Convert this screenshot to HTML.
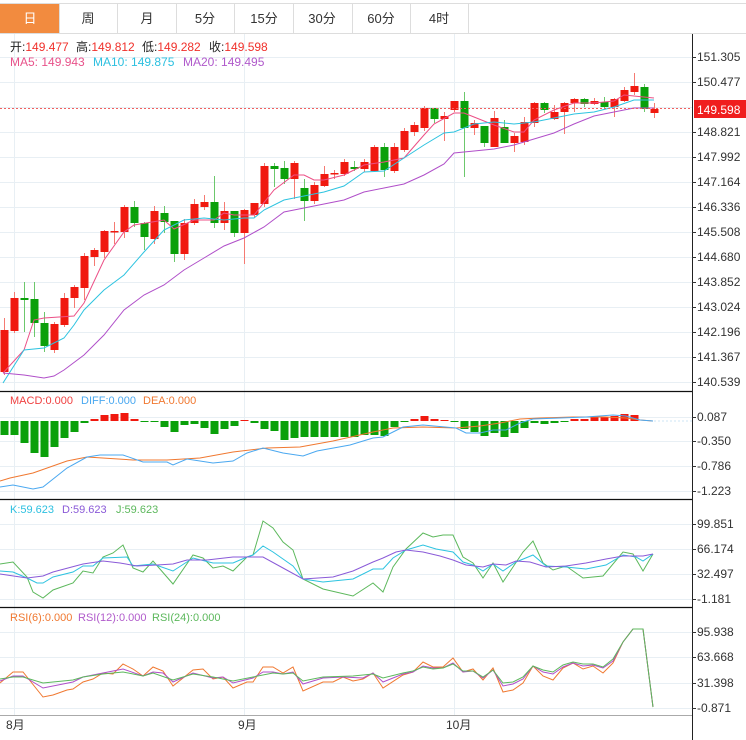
<!DOCTYPE html>
<html><head><meta charset="utf-8"><style>
body{margin:0;width:746px;height:740px;background:#fff;overflow:hidden;font-family:"Liberation Sans","Noto Sans CJK SC",sans-serif}
svg{position:absolute;left:0;top:0}
text{font-family:"Liberation Sans","Noto Sans CJK SC",sans-serif}
</style></head><body>
<svg id="s" width="746" height="740" xmlns="http://www.w3.org/2000/svg">
<line x1="0" y1="3.5" x2="746" y2="3.5" stroke="#ddd"/>
<line x1="0" y1="33.5" x2="746" y2="33.5" stroke="#ddd"/>
<rect x="0" y="4" width="59" height="29" fill="#f28b3f"/>
<g stroke="#ddd"><line x1="59.5" y1="4" x2="59.5" y2="33"/><line x1="117.5" y1="4" x2="117.5" y2="33"/><line x1="176.5" y1="4" x2="176.5" y2="33"/><line x1="234.5" y1="4" x2="234.5" y2="33"/><line x1="293.5" y1="4" x2="293.5" y2="33"/><line x1="352.5" y1="4" x2="352.5" y2="33"/><line x1="410.5" y1="4" x2="410.5" y2="33"/><line x1="468.5" y1="4" x2="468.5" y2="33"/></g>
<g font-size="13" text-anchor="middle" fill="#333"><text x="30" y="23" fill="#fff">日</text><text x="88" y="23">周</text><text x="147" y="23">月</text><text x="205" y="23">5分</text><text x="264" y="23">15分</text><text x="322" y="23">30分</text><text x="381" y="23">60分</text><text x="439" y="23">4时</text></g>
<g stroke="#e8eff4" id="grid"></g>
<g stroke="#e8eff4"><line x1="14.5" y1="34" x2="14.5" y2="715"/><line x1="244.5" y1="34" x2="244.5" y2="715"/><line x1="454.5" y1="34" x2="454.5" y2="715"/></g>
<g stroke="#111" stroke-width="1.2"><line x1="0" y1="391.5" x2="692" y2="391.5"/><line x1="0" y1="499.5" x2="692" y2="499.5"/><line x1="0" y1="607.5" x2="692" y2="607.5"/></g>
<line x1="0" y1="715.5" x2="692" y2="715.5" stroke="#aaa"/>
<line x1="692.5" y1="34" x2="692.5" y2="740" stroke="#222"/>
<g id="plot"></g>
<g font-size="12">
<text x="10" y="51" fill="#222">开:<tspan fill="#f0302a">149.477</tspan></text>
<text x="76" y="51" fill="#222">高:<tspan fill="#f0302a">149.812</tspan></text>
<text x="142" y="51" fill="#222">低:<tspan fill="#f0302a">149.282</tspan></text>
<text x="209" y="51" fill="#222">收:<tspan fill="#f0302a">149.598</tspan></text>
<text x="10" y="66" fill="#e8528a">MA5: 149.943</text><text x="93" y="66" fill="#2dc0e0">MA10: 149.875</text><text x="183" y="66" fill="#b05acb">MA20: 149.495</text>
</g>
<g font-size="11">
<text x="10" y="404" fill="#f04040">MACD:0.000</text><text x="81" y="404" fill="#4aa8f0">DIFF:0.000</text><text x="143" y="404" fill="#f07830">DEA:0.000</text>
<text x="10" y="513" fill="#2dc0e0">K:59.623</text><text x="62" y="513" fill="#8a5ad8">D:59.623</text><text x="116" y="513" fill="#5cb85c">J:59.623</text>
<text x="10" y="621" fill="#f07830">RSI(6):0.000</text><text x="78" y="621" fill="#b05acb">RSI(12):0.000</text><text x="152" y="621" fill="#5cb85c">RSI(24):0.000</text>
</g>
<g font-size="12" fill="#333" id="ax"></g>
<line x1="0" y1="108.5" x2="692" y2="108.5" stroke="#f06060" stroke-dasharray="2,2"/>
<rect x="694" y="100" width="52" height="18" fill="#f01e1e"/>
<text x="697" y="114" font-size="12" fill="#fff">149.598</text>
<g font-size="12" fill="#333"><text x="6" y="729">8月</text><text x="238" y="729">9月</text><text x="446" y="729">10月</text></g>
</svg>
<script>
var NS="http://www.w3.org/2000/svg",P=document.getElementById('plot'),G=document.getElementById('grid'),A=document.getElementById('ax');
function el(t,a,p){var e=document.createElementNS(NS,t);for(var k in a)e.setAttribute(k,a[k]);(p||P).appendChild(e);return e;}
var ticks=[[57,"151.305"],[82,"150.477"],[132,"148.821"],[157,"147.992"],[182,"147.164"],[207,"146.336"],[232,"145.508"],[257,"144.680"],[282,"143.852"],[307,"143.024"],[332,"142.196"],[357,"141.367"],[382,"140.539"],[417,"0.087"],[441,"-0.350"],[466,"-0.786"],[491,"-1.223"],[524,"99.851"],[549,"66.174"],[574,"32.497"],[599,"-1.181"],[632,"95.938"],[657,"63.668"],[683,"31.398"],[708,"-0.871"]];
ticks.forEach(function(t){el('line',{x1:0,y1:t[0]+.5,x2:692,y2:t[0]+.5},G);el('line',{x1:692,y1:t[0]+.5,x2:696,y2:t[0]+.5,stroke:'#333'},A);var x=el('text',{x:697,y:t[0]+4},A);x.textContent=t[1];});
el('line',{x1:0,y1:107.5,x2:692,y2:107.5},G);
var C=[[330,372,318,375,1],[298,331,292,333,1],[298,300,282,332,0],[299,323,282,337,0],[323,346,312,352,0],[324,350,322,353,1],[298,325,293,327,1],[287,298,285,308,1],[256,288,253,300,1],[250,257,248,266,1],[231,252,230,258,1],[231,232,222,244,1],[207,232,205,238,1],[207,223,201,227,0],[223,237,222,250,0],[211,239,206,244,1],[213,222,206,233,0],[221,254,221,262,0],[223,254,219,260,1],[204,223,199,225,1],[202,207,195,210,1],[202,223,176,228,0],[211,223,202,230,1],[211,233,211,237,0],[210,233,209,264,1],[203,215,203,217,1],[166,204,163,207,1],[166,169,163,187,0],[168,179,161,184,0],[163,179,161,199,1],[188,201,179,221,0],[185,201,182,204,1],[174,186,166,187,1],[173,174,170,179,1],[162,174,159,176,1],[167,169,161,171,0],[162,169,159,172,1],[147,171,145,172,1],[147,170,143,177,0],[147,171,143,173,1],[131,150,128,152,1],[125,132,122,136,1],[108,128,106,131,1],[108,119,108,123,0],[116,119,112,141,1],[101,110,101,112,1],[101,128,92,177,0],[123,128,120,135,1],[126,143,126,147,0],[118,147,111,147,1],[127,143,120,143,0],[136,143,133,152,1],[122,142,117,145,1],[103,123,102,127,1],[103,110,102,113,0],[112,119,105,120,1],[103,112,102,134,1],[99,103,98,112,1],[99,104,98,107,0],[101,104,98,105,1],[102,107,97,108,0],[99,107,98,117,1],[90,101,87,102,1],[86,92,73,95,1],[87,109,84,112,0],[109,113,103,118,1]];
C.forEach(function(c,i){var x=4+i*10,col=c[4]?'#f0190f':'#0aa00a',wc=c[4]?'#f57a72':'#6cc86c';
el('line',{x1:x+.5,y1:c[2],x2:x+.5,y2:c[3],stroke:wc});el('rect',{x:x-3.5,y:c[0],width:8,height:Math.max(1.5,c[1]-c[0]),fill:col});});
function pl(pts,col,w){el('polyline',{points:pts.map(function(p){return p.join(',')}).join(' '),fill:'none',stroke:col,'stroke-width':w||1});}
pl([[3,373],[24,350],[34,320],[44,318],[74,316],[84,303],[104,260],[124,232],[134,225],[164,220],[174,229],[194,220],[214,220],[224,213],[234,215],[254,215],[274,190],[294,175],[304,175],[314,180],[324,180],[344,175],[364,165],[384,162],[404,158],[424,135],[434,124],[454,113],[464,113],[474,117],[494,125],[514,132],[524,132],[534,120],[554,110],[574,103],[594,103],[614,101],[624,95],[634,96],[654,98]],'#ec4f86');
pl([[3,383],[24,350],[44,348],[64,338],[74,325],[84,310],[104,290],[124,275],[144,252],[164,230],[184,220],[204,218],[224,220],[244,218],[254,218],[264,210],[284,200],[304,196],[324,192],[344,186],[364,172],[384,171],[404,158],[424,145],[444,133],[454,132],[474,124],[494,122],[514,124],[534,122],[554,118],[574,114],[594,112],[614,107],[634,100],[654,100]],'#2dc3e0');
pl([[3,373],[24,375],[44,378],[54,376],[64,370],[84,355],[104,335],[124,310],[144,295],[164,285],[184,270],[204,258],[224,246],[244,238],[264,227],[284,212],[304,208],[324,204],[344,200],[364,192],[384,188],[404,184],[424,175],[444,164],[454,153],[474,151],[494,149],[514,145],[534,139],[554,133],[574,124],[594,116],[614,112],[634,108],[654,108]],'#b04fc9');
var Z=421,H=[435,435,443,453,457,447,438,432,423,419,415,414,413,419,422,422,427,432,425,424,428,434,429,426,420,423,429,431,440,438,437,437,437,437,437,437,435,435,436,427,422,419,416,419,420,422,429,432,436,433,437,433,428,423,424,423,422,419,419,417,417,416,414,415];
H.forEach(function(v,i){var x=4+i*10;if(v==422||v==Z){el('rect',{x:x-3.5,y:Z,width:8,height:1,fill:'#0aa00a'});return;}
if(v>Z)el('rect',{x:x-3.5,y:Z,width:8,height:v-Z,fill:'#0aa00a'});else el('rect',{x:x-3.5,y:v,width:8,height:Z-v,fill:'#f0190f'});});
el('line',{x1:654,y1:421,x2:692,y2:421,stroke:'#cde6f5','stroke-dasharray':'2,2'});
pl([[0,481],[10,478],[33,473],[67,461],[87,457],[133,460],[167,460],[200,458],[233,452],[267,448],[300,447],[333,441],[373,432],[393,428],[423,427],[456,428],[480,426],[500,423],[520,419],[540,418],[573,417],[606,417],[626,418],[640,420],[653,421]],'#f07830');
pl([[0,487],[13,485],[33,489],[43,487],[67,468],[87,457],[100,455],[123,455],[143,462],[167,462],[173,465],[187,459],[213,463],[233,461],[247,453],[263,448],[283,453],[303,456],[317,451],[350,445],[373,438],[383,437],[393,432],[403,427],[423,425],[456,428],[466,433],[480,433],[493,430],[506,430],[520,423],[533,419],[560,418],[586,417],[613,415],[626,416],[640,420],[653,421]],'#4aa8f0');
pl([[0,564],[13,562],[27,577],[33,592],[43,598],[53,590],[73,583],[83,571],[93,573],[103,557],[113,553],[123,545],[133,568],[143,572],[153,561],[173,584],[193,555],[203,558],[213,568],[223,566],[233,571],[247,557],[253,555],[263,521],[273,528],[283,542],[293,550],[303,579],[323,589],[353,596],[373,583],[383,592],[393,567],[406,549],[423,533],[433,537],[443,535],[453,535],[463,557],[473,563],[483,578],[493,563],[503,582],[523,552],[533,541],[543,563],[553,570],[566,566],[583,578],[603,576],[623,552],[633,554],[643,571],[653,554]],'#5cb85c');
pl([[0,571],[13,572],[27,578],[37,583],[43,583],[53,577],[73,572],[83,566],[93,566],[103,558],[127,557],[133,566],[153,564],[173,571],[193,558],[213,563],[233,563],[247,557],[253,555],[263,546],[273,552],[293,566],[303,579],[323,582],[353,579],[373,569],[383,569],[393,558],[406,550],[423,545],[436,549],[453,552],[463,562],[473,565],[483,571],[493,564],[503,571],[516,562],[533,555],[546,566],[566,567],[586,569],[606,565],[623,555],[636,557],[643,561],[653,554]],'#2dc3e0');
pl([[0,574],[27,578],[43,576],[53,572],[83,564],[103,561],[120,563],[137,566],[157,565],[173,564],[187,560],[207,560],[233,557],[263,557],[283,568],[303,579],[333,577],[353,571],[373,562],[383,558],[396,552],[406,550],[423,552],[440,556],[453,560],[466,565],[483,567],[493,564],[506,565],[516,561],[530,562],[546,567],[566,566],[586,563],[606,559],[623,556],[643,556],[653,554]],'#8a5ad8');
pl([[0,683],[13,672],[23,672],[43,697],[53,695],[67,690],[73,689],[83,682],[93,679],[103,673],[113,674],[123,664],[133,669],[143,676],[153,667],[163,671],[173,686],[193,670],[203,669],[213,679],[223,677],[233,688],[247,682],[253,682],[263,667],[273,667],[283,673],[293,667],[303,691],[323,682],[333,682],[343,677],[353,681],[363,679],[373,673],[383,688],[403,675],[413,672],[423,662],[433,667],[443,667],[453,658],[463,672],[473,669],[483,680],[493,668],[503,692],[513,690],[523,683],[533,666],[543,676],[553,680],[563,668],[573,663],[583,669],[593,666],[603,673],[613,663],[623,642],[633,629],[643,629],[653,707]],'#f07830');
pl([[0,681],[13,676],[23,676],[43,688],[73,682],[83,677],[103,673],[123,669],[143,676],[153,672],[163,673],[173,682],[193,673],[213,678],[223,677],[233,683],[253,678],[263,672],[273,672],[283,674],[293,672],[303,684],[323,678],[343,677],[363,678],[373,673],[383,682],[403,674],[413,672],[423,666],[433,668],[443,668],[453,663],[463,672],[473,671],[483,678],[493,670],[503,686],[513,684],[523,679],[533,666],[543,672],[553,674],[563,667],[573,663],[583,666],[593,665],[603,668],[613,661],[623,642],[633,629],[643,629],[653,707]],'#b04fc9');
pl([[0,679],[13,677],[23,677],[43,683],[73,680],[83,677],[103,674],[123,672],[143,676],[153,673],[173,680],[193,674],[213,677],[233,681],[253,677],[273,673],[283,674],[293,673],[303,681],[323,677],[353,676],[373,674],[383,678],[403,673],[413,671],[423,667],[433,669],[443,668],[453,664],[463,671],[473,671],[483,677],[493,670],[503,683],[513,682],[523,677],[533,666],[543,670],[553,672],[563,665],[573,662],[583,664],[593,664],[603,667],[613,659],[623,642],[633,629],[643,629],[653,707]],'#5cb85c');
</script>
</body></html>
